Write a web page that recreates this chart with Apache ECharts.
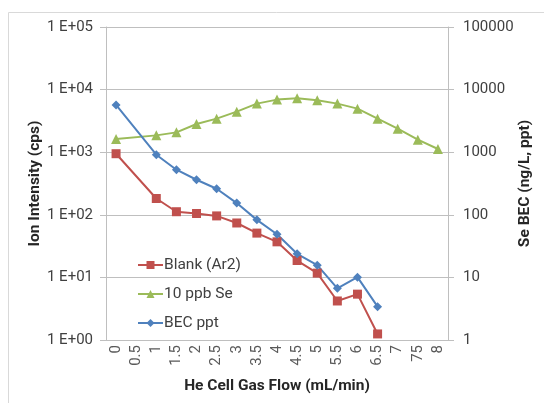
<!DOCTYPE html>
<html>
<head>
<meta charset="utf-8">
<script src="https://cdn.jsdelivr.net/npm/echarts@6/dist/echarts.min.js"></script>
<style>
  html, body { margin: 0; padding: 0; background: #fff; }
  #chart { width: 544px; height: 403px; }
</style>
</head>
<body>
<div id="chart"></div>
<script>
// x categories as written on the sheet (the "75" is in the original)
const flows = ["0", "0.5", "1", "1.5", "2", "2.5", "3", "3.5", "4", "4.5", "5", "5.5", "6", "6.5", "7", "75", "8"];

// no reading at 0.5 mL/min, the line just joins across it
const blankAr2 = [946, null, 182, 112, 105, 96, 74, 51, 37, 18.6, 11.7, 4.2, 5.4, 1.25, null, null, null];
const se10ppb = [1626, null, 1857, 2074, 2826, 3436, 4446, 5970, 6918, 7256, 6745, 5970, 4966, 3436, 2377, 1585, 1125];
const becPpt = [5690, null, 912, 525, 363, 261, 154, 83, 49, 23.8, 15.7, 6.7, 10.1, 3.41, null, null, null];

const chart = echarts.init(document.getElementById("chart"));

const font = "Roboto, 'Liberation Sans', sans-serif";
const gridColor = "#bfbfbf";
const titleStyle = { fontFamily: font, fontSize: 15.5, fontWeight: "bold", color: "#262626" };

chart.setOption({
  animation: false,
  textStyle: { fontFamily: font },
  graphic: [
    {
      type: "rect",
      shape: { x: 8.5, y: 12.5, width: 600, height: 500 },
      style: { fill: "none", stroke: "#d9d9d9", lineWidth: 1 },
      silent: true,
    },
  ],
  legend: {
    orient: "vertical",
    left: 132,
    top: 252,
    itemWidth: 25,
    itemHeight: 10,
    itemGap: 13,
    textStyle: { fontFamily: font, fontSize: 15.5, color: "#404040", padding: [0, 0, 0, -4] },
    data: ["Blank (Ar2)", "10 ppb Se", "BEC ppt"],
  },
  grid: { left: 106, right: 96, top: 27, bottom: 63, outerBoundsMode: "none" },
  xAxis: {
    type: "category",
    data: flows,
    boundaryGap: true,
    name: "He Cell Gas Flow (mL/min)",
    nameLocation: "middle",
    nameGap: 38,
    nameMoveOverlap: false,
    nameTextStyle: titleStyle,
    axisLine: { lineStyle: { color: gridColor } },
    axisTick: { interval: 0, length: 5, lineStyle: { color: gridColor } },
    axisLabel: { interval: 0, rotate: 90, fontSize: 15, color: "#595959", margin: 5, hideOverlap: false },
  },
  yAxis: [
    {
      type: "log",
      logBase: 10,
      min: 1,
      max: 100000,
      name: "Ion Intensity (cps)",
      nameLocation: "middle",
      nameGap: 63,
      nameMoveOverlap: false,
      nameTextStyle: titleStyle,
      axisLine: { show: true, lineStyle: { color: gridColor } },
      axisTick: { show: true, length: 6, lineStyle: { color: gridColor } },
      splitLine: { lineStyle: { color: gridColor } },
      axisLabel: {
        fontSize: 15,
        color: "#404040",
        margin: 13,
        formatter: (v) => "1 E+" + String(Math.round(Math.log10(v))).padStart(2, "0"),
      },
    },
    {
      type: "log",
      logBase: 10,
      min: 1,
      max: 100000,
      name: "Se BEC (ng/L, ppt)",
      nameLocation: "middle",
      nameGap: 69,
      nameMoveOverlap: false,
      nameTextStyle: titleStyle,
      axisLine: { show: true, lineStyle: { color: gridColor } },
      axisTick: { show: true, length: 6, lineStyle: { color: gridColor } },
      splitLine: { show: false },
      axisLabel: { fontSize: 15, color: "#404040", margin: 15, formatter: (v) => String(Math.round(v)) },
    },
  ],
  series: [
    {
      name: "Blank (Ar2)",
      type: "line",
      yAxisIndex: 0,
      data: blankAr2,
      connectNulls: true,
      symbol: "rect",
      symbolSize: 9,
      color: "#C0504D",
      lineStyle: { width: 2 },
    },
    {
      name: "10 ppb Se",
      type: "line",
      yAxisIndex: 0,
      data: se10ppb,
      connectNulls: true,
      symbol: "triangle",
      symbolSize: 10,
      color: "#9BBB59",
      lineStyle: { width: 2 },
    },
    {
      name: "BEC ppt",
      type: "line",
      yAxisIndex: 1,
      data: becPpt,
      connectNulls: true,
      symbol: "diamond",
      symbolSize: 9,
      color: "#4F81BD",
      lineStyle: { width: 2 },
    },
  ],
});
</script>
</body>
</html>
